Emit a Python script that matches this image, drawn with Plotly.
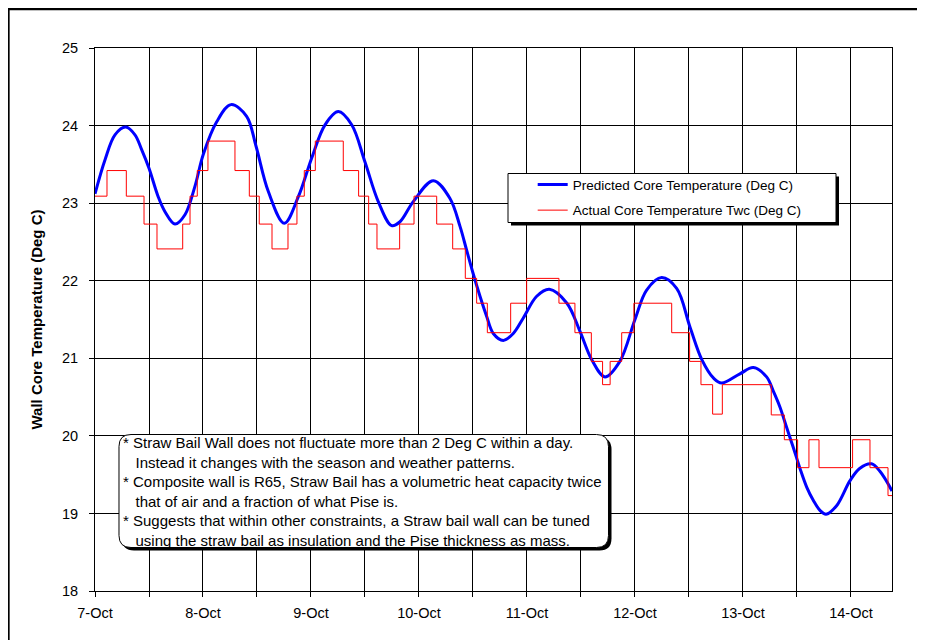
import plotly.graph_objects as go

# ---------------- data ----------------
day_ticks = [0, 1, 2, 3, 4, 5, 6, 7]
day_labels = ["7-Oct", "8-Oct", "9-Oct", "10-Oct", "11-Oct", "12-Oct", "13-Oct", "14-Oct"]

# Predicted core temperature (days after 7-Oct 00:00, deg C)
pred_days = [0.000, 0.093, 0.185, 0.284, 0.370, 0.432, 0.500, 0.586, 0.648, 0.741,
             0.833, 0.926, 1.003, 1.127, 1.259, 1.404, 1.490, 1.605, 1.753, 1.882,
             2.006, 2.130, 2.253, 2.377, 2.500, 2.623, 2.747, 2.824, 2.947, 3.133,
             3.287, 3.380, 3.440, 3.500, 3.565, 3.627, 3.688, 3.781, 3.873, 3.966,
             4.090, 4.207, 4.370, 4.490, 4.600, 4.722, 4.860, 5.000, 5.108, 5.247,
             5.386, 5.510, 5.620, 5.730, 5.802, 5.972, 6.096, 6.219, 6.280, 6.343,
             6.404, 6.466, 6.528, 6.590, 6.651, 6.713, 6.769, 6.867, 6.990, 7.080,
             7.191, 7.270, 7.380]
pred_temp = [23.12, 23.56, 23.88, 23.98, 23.88, 23.69, 23.45, 23.08, 22.89, 22.73,
             22.85, 23.22, 23.63, 24.05, 24.27, 24.12, 23.74, 23.15, 22.74, 23.08,
             23.58, 24.01, 24.18, 24.01, 23.53, 23.02, 22.71, 22.76, 23.02, 23.29,
             23.06, 22.70, 22.40, 22.10, 21.80, 21.54, 21.32, 21.23, 21.32, 21.52,
             21.80, 21.89, 21.71, 21.35, 20.98, 20.76, 20.96, 21.50, 21.88, 22.04,
             21.90, 21.40, 20.98, 20.74, 20.68, 20.80, 20.88, 20.76, 20.58, 20.37,
             20.11, 19.85, 19.58, 19.34, 19.17, 19.04, 18.99, 19.10, 19.42, 19.58,
             19.64, 19.54, 19.29]

# Actual core temperature Twc (step readings: start of each reading, deg C)
act_days = [0.000, 0.111, 0.290, 0.454, 0.574, 0.812, 0.880, 0.947, 1.046, 1.296,
            1.429, 1.521, 1.639, 1.787, 1.870, 1.938, 2.040, 2.299, 2.441, 2.534,
            2.611, 2.821, 2.954, 3.164, 3.312, 3.429, 3.534, 3.633, 3.849, 3.997,
            4.296, 4.444, 4.596, 4.700, 4.770, 4.877, 4.990, 5.340, 5.506, 5.611,
            5.719, 5.809, 6.262, 6.383, 6.506, 6.611, 6.704, 7.015, 7.176, 7.343,
            7.380]
act_temp = [23.09, 23.42, 23.09, 22.73, 22.41, 22.73, 23.09, 23.42, 23.80, 23.42,
            23.09, 22.73, 22.41, 22.73, 23.09, 23.42, 23.80, 23.42, 23.09, 22.73,
            22.41, 22.73, 23.09, 22.73, 22.41, 22.03, 21.71, 21.33, 21.71, 22.03,
            21.71, 21.33, 20.96, 20.66, 20.96, 21.33, 21.71, 21.33, 20.96, 20.66,
            20.28, 20.66, 20.27, 19.95, 19.59, 19.95, 19.59, 19.95, 19.59, 19.23,
            19.23]

notes = [
    "* Straw Bail Wall does not fluctuate more than 2 Deg C within a day.",
    "   Instead it changes with the season and weather patterns.",
    "* Composite wall is R65, Straw Bail has a volumetric heat capacity twice",
    "   that of air and a fraction of what Pise is.",
    "* Suggests that within other constraints, a Straw bail wall can be tuned",
    "   using the straw bail as insulation and the Pise thickness as mass.",
]

# ---------------- layout geometry (figure pixels) ----------------
W, H = 917, 632
L, R, T, B = 87, 884, 40, 583
OFF = 8  # page offset of the figure inside the browser window
FONT = "Arial, Liberation Sans, sans-serif"


def px_x(p):  # screen px -> paper
    return (p - OFF - L) / (R - L)


def px_y(p):
    return (B - (p - OFF)) / (B - T)


def rrect_path(x0, y0, x1, y1, r):
    pts = [
        ("M", [(x0 + r, y0)]), ("L", [(x1 - r, y0)]), ("Q", [(x1, y0), (x1, y0 + r)]),
        ("L", [(x1, y1 - r)]), ("Q", [(x1, y1), (x1 - r, y1)]), ("L", [(x0 + r, y1)]),
        ("Q", [(x0, y1), (x0, y1 - r)]), ("L", [(x0, y0 + r)]), ("Q", [(x0, y0), (x0 + r, y0)]),
    ]
    s = ""
    for cmd, ps in pts:
        s += cmd + " ".join(f"{px_x(a):.5f},{px_y(b):.5f}" for a, b in ps) + " "
    return s + "Z"


fig = go.Figure()
fig.add_trace(go.Scatter(
    x=pred_days, y=pred_temp, mode="lines", name="Predicted Core Temperature (Deg C)",
    line=dict(color="#0000FF", width=3, shape="spline", smoothing=1.0),
    legendgroup="a",
))
fig.add_trace(go.Scatter(
    x=act_days, y=act_temp, mode="lines", name="Actual Core Temperature Twc (Deg C)",
    line=dict(color="#FF0000", width=1, shape="hv"),
    legendgroup="b",
))

shapes = []
# outer frame: top and left edges (the rest runs off the page)
shapes.append(dict(type="line", xref="paper", yref="paper",
                   x0=px_x(7), x1=px_x(1000), y0=px_y(9), y1=px_y(9),
                   line=dict(color="black", width=2.5), layer="above"))
shapes.append(dict(type="line", xref="paper", yref="paper",
                   x0=px_x(8.4), x1=px_x(8.4), y0=px_y(8), y1=px_y(700),
                   line=dict(color="black", width=2.5), layer="above"))
# legend box with shadow
shapes.append(dict(type="rect", xref="paper", yref="paper",
                   x0=px_x(511), x1=px_x(839), y0=px_y(176.5), y1=px_y(225.5),
                   line=dict(width=0), fillcolor="black", layer="above"))
shapes.append(dict(type="rect", xref="paper", yref="paper",
                   x0=px_x(508), x1=px_x(836), y0=px_y(173.5), y1=px_y(222.5),
                   line=dict(color="black", width=1), fillcolor="white", layer="above"))
# note box with shadow
shapes.append(dict(type="path", xref="paper", yref="paper",
                   path=rrect_path(122, 437.5, 611.5, 550.5, 12),
                   line=dict(width=0), fillcolor="black", layer="above"))
shapes.append(dict(type="path", xref="paper", yref="paper",
                   path=rrect_path(119, 434.5, 608.5, 547.5, 12),
                   line=dict(color="black", width=1), fillcolor="white", layer="above"))

note_text = "<br>".join(n.replace(" ", "\u00a0") for n in notes)

fig.update_layout(
    width=W, height=H,
    margin=dict(l=L, r=W - R, t=T, b=H - B, pad=0),
    paper_bgcolor="white", plot_bgcolor="white",
    font=dict(family=FONT, color="black", size=14.5),
    shapes=shapes,
    showlegend=True,
    legend=dict(
        x=px_x(532.7), y=px_y(169.3), xanchor="left", yanchor="top",
        bgcolor="rgba(0,0,0,0)", borderwidth=0,
        font=dict(family=FONT, size=13.5, color="black"),
        tracegroupgap=5,
    ),
    annotations=[
        dict(text=note_text, xref="paper", yref="paper",
             x=px_x(121), y=px_y(491), xanchor="left", yanchor="middle",
             align="left", showarrow=False,
             font=dict(family=FONT, size=15, color="black")),
    ],
)

fig.update_xaxes(
    range=[0, 7.38], tickmode="array", tickvals=day_ticks, ticktext=day_labels,
    ticks="outside", ticklen=5, tickcolor="black", tickwidth=1,
    showgrid=True, gridcolor="black", gridwidth=1,
    showline=True, linecolor="black", linewidth=1, mirror=True,
    zeroline=False, ticklabelstandoff=4,
    tickfont=dict(family=FONT, size=14.5, color="black"),
    minor=dict(tickmode="linear", tick0=0, dtick=0.5, ticks="outside", ticklen=5,
               tickcolor="black", showgrid=True, gridcolor="black", gridwidth=1),
)
fig.update_yaxes(
    range=[18, 25], dtick=1, tick0=18,
    ticks="outside", ticklen=5, tickcolor="black", tickwidth=1,
    showgrid=True, gridcolor="black", gridwidth=1,
    showline=True, linecolor="black", linewidth=1, mirror=True,
    zeroline=False, ticklabelstandoff=8,
    tickfont=dict(family=FONT, size=14.5, color="black"),
    title=dict(text="<b>Wall Core Temperature (Deg C)</b>",
               font=dict(family=FONT, size=15, color="black"), standoff=15),
)

fig.write_html("out.html")
